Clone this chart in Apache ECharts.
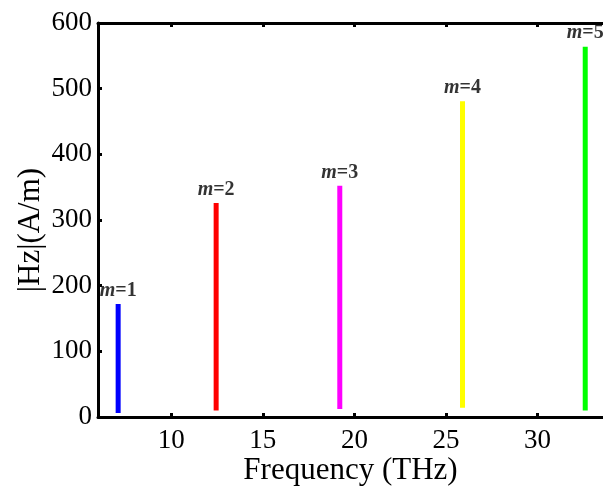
<!DOCTYPE html>
<html>
<head>
<meta charset="utf-8">
<script src="https://cdn.jsdelivr.net/npm/echarts@6/dist/echarts.min.js"></script>
<style>
html,body{margin:0;padding:0;background:#fff;}
#chart{width:603px;height:486px;}
</style>
</head>
<body>
<div id="chart"></div>
<script>
// Data
const modeNames = ['1', '2', '3', '4', '5'];
const frequencies = [7.1, 12.45, 19.2, 25.9, 32.6];
const baseValues = [6, 10, 12, 14, 10];
const peakValues = [172, 326, 352, 481, 564];
const modeColors = ['#0000ff', '#ff0000', '#ff00ff', '#ffff00', '#00ff00'];
const xTickValues = [10, 15, 20, 25, 30];

const FONT = '"Liberation Serif", "Times New Roman", serif';

const series = [];
modeNames.forEach((m, i) => {
  series.push({
    type: 'line',
    xAxisIndex: 0,
    yAxisIndex: 0,
    data: [[frequencies[i], baseValues[i]], [frequencies[i], peakValues[i]]],
    showSymbol: false,
    symbol: 'none',
    lineStyle: { color: modeColors[i], width: 5, cap: 'butt' },
    silent: true,
    animation: false,
    z: 3
  });
});
series.push({
  type: 'scatter',
  xAxisIndex: 0,
  yAxisIndex: 0,
  symbolSize: 1,
  itemStyle: { color: 'rgba(0,0,0,0)' },
  data: modeNames.map((m, i) => ({ value: [frequencies[i], peakValues[i]], name: m })),
  label: {
    show: true,
    position: 'top',
    distance: 3,
    formatter: p => '{i|m}{n|=' + p.name + '}',
    rich: {
      i: { fontFamily: FONT, fontStyle: 'italic', fontWeight: 'bold', fontSize: 20, color: '#000' },
      n: { fontFamily: FONT, fontWeight: 'bold', fontSize: 20, color: '#000' }
    }
  },
  animation: false,
  z: 4
});

const xMin = 6, xMax = 33.57;
const chart = echarts.init(document.getElementById('chart'), null, { renderer: 'canvas' });
chart.setOption({
  animation: false,
  backgroundColor: '#fff',
  grid: { left: 98, right: 0, top: 23, bottom: 69, containLabel: false, outerBoundsMode: 'none' },
  xAxis: [
    {
      type: 'value', position: 'bottom', min: xMin, max: xMax,
      name: 'Frequency (THz)', nameLocation: 'middle', nameGap: 38, nameMoveOverlap: false,
      nameTextStyle: { fontFamily: FONT, fontSize: 31, color: '#000' },
      axisLine: { show: true, onZero: false, lineStyle: { color: '#000', width: 3 } },
      axisTick: { show: true, inside: true, length: 4, customValues: xTickValues, lineStyle: { color: '#000', width: 3 } },
      axisLabel: { show: true, customValues: xTickValues, margin: 10, fontFamily: FONT, fontSize: 27, color: '#000' },
      splitLine: { show: false }
    },
    {
      type: 'value', position: 'top', min: xMin, max: xMax,
      axisLine: { show: true, onZero: false, lineStyle: { color: '#000', width: 3 } },
      axisTick: { show: true, inside: true, length: 4, customValues: xTickValues, lineStyle: { color: '#000', width: 3 } },
      axisLabel: { show: false },
      splitLine: { show: false }
    }
  ],
  yAxis: [
    {
      type: 'value', position: 'left', min: 0, max: 600, interval: 100,
      name: '|Hz|(A/m)', nameLocation: 'middle', nameGap: 52, nameMoveOverlap: false,
      nameTextStyle: { fontFamily: FONT, fontSize: 31, color: '#000', padding: [0, 20, 0, 0] },
      axisLine: { show: true, onZero: false, lineStyle: { color: '#000', width: 3 } },
      axisTick: { show: true, inside: true, length: 4, lineStyle: { color: '#000', width: 3 } },
      axisLabel: { show: true, margin: 6, fontFamily: FONT, fontSize: 27, color: '#000' },
      splitLine: { show: false }
    }
  ],
  series: series
});
</script>
</body>
</html>
